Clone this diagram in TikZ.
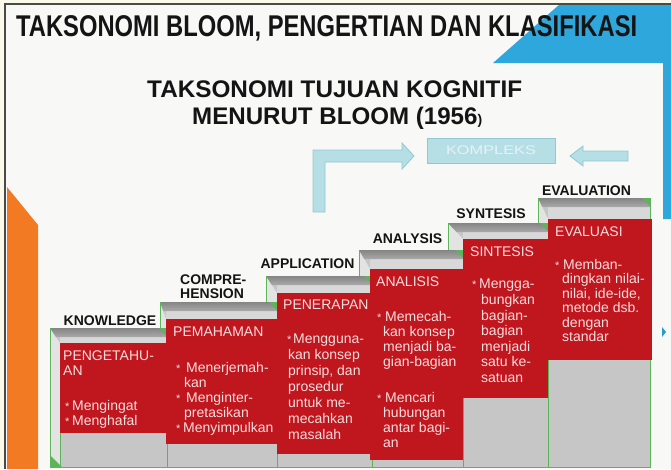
\documentclass[tikz,border=0pt]{standalone}
\usepackage{fontspec}
\setmainfont{Liberation Sans}
\usepackage{graphicx}
\definecolor{cream}{HTML}{FBF9EA}
\definecolor{paper}{HTML}{F8F8F7}
\definecolor{skyblue}{HTML}{2EA7DD}
\definecolor{orangec}{HTML}{F27A22}
\definecolor{framec}{HTML}{4A4A4A}
\definecolor{redfill}{HTML}{C0161E}
\definecolor{redtext}{HTML}{F8DEDE}
\definecolor{lbltext}{HTML}{141414}
\definecolor{gline}{HTML}{5DB55A}
\definecolor{frontgray}{HTML}{C6C6C6}
\definecolor{bandgray}{HTML}{D8D8D8}
\definecolor{sidegray}{HTML}{E3E3E3}
\definecolor{topdark}{HTML}{858585}
\definecolor{toplight}{HTML}{A9A9A9}
\definecolor{kfill}{HTML}{B6DEE5}
\definecolor{kline}{HTML}{93C8D2}
\definecolor{ktext}{HTML}{E4F3F5}
\newcommand\bulx[1][8pt]{\makebox[#1][l]{\fontsize{11}{11}\selectfont *}}
\newcommand\indx[1][7pt]{\hspace*{#1}}
% xL xR yT xF redTop redBot
\newcommand\drawstep[6]{%
  \fill[frontgray] (#1,#3) rectangle (#2,467);
  \fill[bandgray] ({#4},{#3+9}) rectangle (#2,#5);
  \fill[sidegray] (#1,#3) -- (#4,#5) -- (#4,467) -- (#1,467) -- cycle;
  \shade[top color=topdark, bottom color=toplight] (#1,#3) -- (#2,#3) -- (#2,{#3+9}) -- ({#1+(#4-#1)*9/(#5-#3)},{#3+9}) -- cycle;
  \draw[greenline] (#1,#3) -- (#1,467) -- (#2,467) -- (#2,#3);
  \draw[greenline] (#4,#6) -- (#4,467);
  \fill[gline] ({#2-8},#3) -- (#2,#3) -- (#2,{#3+8}) -- cycle;
}
\begin{document}
\begin{tikzpicture}[x=1pt,y=-1pt,
  rtext/.style={text=redtext, align=left, inner sep=0pt, anchor=north west, font=\fontsize{14}{15}\selectfont},
  lbl/.style={text=lbltext, inner sep=0pt, anchor=base, font=\fontsize{14}{14}\selectfont\bfseries},
  greenline/.style={draw=gline, line width=0.9pt},
  arrowshape/.style={fill=kfill, draw=kline, line width=0.8pt, line join=miter}]
\useasboundingbox (0,0) rectangle (671,469);
\fill[cream] (0,0) rectangle (671,469);
\fill[paper] (5,4) rectangle (671,469);
\fill[skyblue] (493,63) -- (560,4) -- (671,4) -- (671,219) -- (663,219) -- (663,63) -- cycle;
\fill[orangec] (7,187) -- (38,225) -- (38,469) -- (7,469) -- cycle;
\draw[framec, line width=1.2pt] (5,469) -- (5,4) -- (671,4);
\fill[skyblue!80!teal] (662,327) -- (666,332) -- (662,337) -- cycle;

% titles
\node[anchor=base west, inner sep=0pt, text=lbltext] (title) at (16,36.5)
  {\resizebox{621pt}{\height}{\fontsize{30}{30}\selectfont\bfseries TAKSONOMI BLOOM, PENGERTIAN DAN KLASIFIKASI}};
\node[anchor=base west, inner sep=0pt, text=lbltext] (sub1) at (147,97.5)
  {\resizebox{375pt}{\height}{\fontsize{24}{24}\selectfont\bfseries TAKSONOMI TUJUAN KOGNITIF}};
\node[anchor=base west, inner sep=0pt, text=lbltext] (sub2) at (192,124)
  {\resizebox{290pt}{\height}{\fontsize{24}{24}\selectfont\bfseries MENURUT BLOOM (1956{\fontsize{14}{14}\selectfont)}}};

% KOMPLEKS box and arrows
\node[arrowshape, minimum width=128pt, minimum height=25pt, inner sep=0pt, text=ktext] (kompleks) at (491,150.5)
  {\resizebox{90pt}{\height}{\fontsize{12.5}{12.5}\selectfont KOMPLEKS}};
\draw[arrowshape] (313,212) -- (313,150) -- (402,150) -- (402,143) -- (414,156) -- (402,169) -- (402,162) -- (325,162) -- (325,212) -- cycle;
\draw[arrowshape] (628,151) -- (583,151) -- (583,146) -- (570,156) -- (583,166) -- (583,161) -- (628,161) -- cycle;

% steps (back to front)
\drawstep{538}{650}{198}{548}{219}{360}
\drawstep{448}{548}{223}{463}{239}{398}
\drawstep{359}{463}{250}{370}{269}{460}
\drawstep{266}{372}{276}{277}{293}{454}
\drawstep{160}{277}{302}{166}{319}{444}
\drawstep{50}{167}{328}{60}{343}{433}
\fill[gline] (50,455) -- (50,467) -- (62,467) -- cycle;

% red boxes
\fill[redfill] (548,219) rectangle (652,360);
\fill[redfill] (463,239) rectangle (548,398);
\fill[redfill] (370,269) rectangle (463,460);
\fill[redfill] (277,293) rectangle (372,454);
\fill[redfill] (166,319) rectangle (277,444);
\fill[redfill] (60,343) rectangle (167,433);

% step labels
\node[lbl] (lknow) at (110,325) {KNOWLEDGE};
\node[lbl, align=left, anchor=north west, font=\fontsize{14}{13.5}\selectfont\bfseries] (lcomp) at (180,275) {COMPRE-\\HENSION};
\node[lbl] (lappl) at (307.5,268) {APPLICATION};
\node[lbl] (lanal) at (407.5,243) {ANALYSIS};
\node[lbl] (lsynt) at (491,218) {SYNTESIS};
\node[lbl] (leval) at (586.5,195) {EVALUATION};

% red texts
\node[rtext] (h1) at (63,351) {PENGETAHU-\\AN};
\node[rtext] (b1) at (65,400) {\bulx[7pt]Mengingat\\\bulx[7pt]Menghafal};

\node[rtext] (h2) at (173,327) {PEMAHAMAN};
\node[rtext] (b2) at (176,362) {\bulx[10pt]Menerjemah-\\\indx[8pt]kan\\\bulx[10pt]Menginter-\\\indx[8pt]pretasikan\\\bulx[7pt]Menyimpulkan};

\node[rtext] (h3) at (283,300) {PENERAPAN};
\node[rtext, font=\fontsize{14}{16}\selectfont] (b3) at (287,334) {\bulx[6pt]Mengguna-\\\indx[1pt]kan konsep\\\indx[1pt]prinsip, dan\\\indx[1pt]prosedur\\\indx[1pt]untuk me-\\\indx[1pt]mecahkan\\\indx[1pt]masalah};

\node[rtext] (h4) at (376,277) {ANALISIS};
\node[rtext] (b4a) at (377,311) {\bulx Memecah-\\\indx[6pt]kan konsep\\\indx[6pt]menjadi ba-\\\indx[6pt]gian-bagian};
\node[rtext] (b4b) at (377,392) {\bulx Mencari\\\indx[6pt]hubungan\\\indx[6pt]antar bagi-\\\indx[6pt]an};

\node[rtext] (h5) at (470,247) {SINTESIS};
\node[rtext, font=\fontsize{14}{15.6}\selectfont] (b5) at (472,279) {\bulx[7pt]Mengga-\\\indx[9pt]bungkan\\\indx[9pt]bagian-\\\indx[9pt]bagian\\\indx[9pt]menjadi\\\indx[9pt]satu ke-\\\indx[9pt]satuan};

\node[rtext] (h6) at (555,227) {EVALUASI};
\node[rtext, font=\fontsize{14}{14.5}\selectfont] (b6) at (555,259) {\bulx Memban-\\\indx dingkan nilai-\\\indx nilai, ide-ide,\\\indx metode dsb.\\\indx dengan\\\indx standar};
\end{tikzpicture}
\end{document}
